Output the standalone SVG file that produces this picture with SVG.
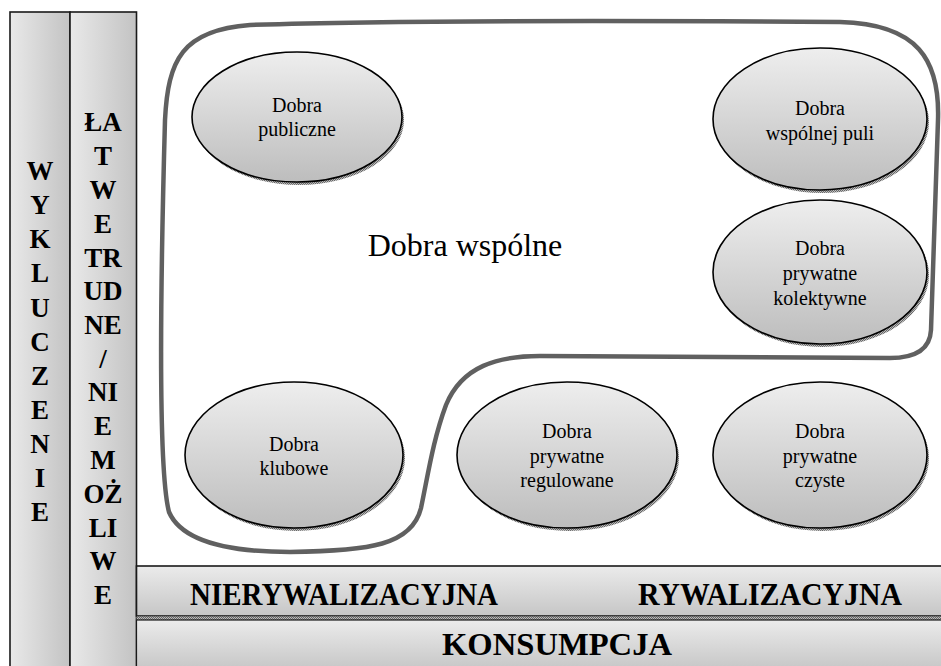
<svg xmlns="http://www.w3.org/2000/svg" width="941" height="666" viewBox="0 0 941 666">
<defs>
<linearGradient id="gH" x1="0" y1="0" x2="1" y2="0">
<stop offset="0" stop-color="#e9e9e9"/><stop offset="1" stop-color="#c3c3c3"/>
</linearGradient>
<linearGradient id="gV" x1="0" y1="0" x2="0" y2="1">
<stop offset="0" stop-color="#ebebeb"/><stop offset="1" stop-color="#c6c6c6"/>
</linearGradient>
<linearGradient id="gE" x1="0" y1="0" x2="0" y2="1">
<stop offset="0" stop-color="#eeeeee"/><stop offset="1" stop-color="#bdbdbd"/>
</linearGradient>
<pattern id="hatch" width="2" height="2" patternUnits="userSpaceOnUse">
<rect width="2" height="2" fill="#bbbbbb"/><rect width="1" height="1" fill="#666666"/><rect x="1" y="1" width="1" height="1" fill="#666666"/>
</pattern>
</defs>
<style>
.bar{stroke:#1a1a1a;stroke-width:1.6}
.vt{font-family:"Liberation Serif","Times New Roman",serif;font-weight:bold;font-size:27px;fill:#000;text-anchor:middle}
.bt{font-family:"Liberation Serif","Times New Roman",serif;font-weight:bold;font-size:31px;fill:#000;text-anchor:middle}
.et{font-family:"Liberation Serif","Times New Roman",serif;font-size:20px;fill:#000;text-anchor:middle}
.big{font-family:"Liberation Serif","Times New Roman",serif;font-size:32px;fill:#000;text-anchor:middle}
.el{fill:url(#gE);stroke:#000;stroke-width:1.6}
.sh{fill:url(#hatch)}
.outline{fill:none;stroke:#606060;stroke-width:4.5;stroke-linejoin:round}
</style>
<rect width="941" height="666" fill="#ffffff"/>

<g id="wykluczenie">
<rect class="bar" x="10" y="12" width="60" height="660" fill="url(#gH)"/>
<text class="vt">
<tspan x="40" y="180">W</tspan><tspan x="40" y="214">Y</tspan><tspan x="40" y="248">K</tspan><tspan x="40" y="282">L</tspan><tspan x="40" y="317">U</tspan><tspan x="40" y="351">C</tspan><tspan x="40" y="385">Z</tspan><tspan x="40" y="419">E</tspan><tspan x="40" y="453">N</tspan><tspan x="40" y="487">I</tspan><tspan x="40" y="521">E</tspan>
</text>
</g>

<g id="latwe">
<rect class="bar" x="70" y="12" width="66.5" height="660" fill="url(#gH)"/>
<text class="vt">
<tspan x="103" y="131">ŁA</tspan><tspan x="103" y="165">T</tspan><tspan x="103" y="199">W</tspan><tspan x="103" y="233">E</tspan><tspan x="103" y="267">TR</tspan><tspan x="103" y="300">UD</tspan><tspan x="103" y="334">NE</tspan><tspan x="103" y="368">/</tspan><tspan x="103" y="401">NI</tspan><tspan x="103" y="435">E</tspan><tspan x="103" y="469">M</tspan><tspan x="103" y="503">OŻ</tspan><tspan x="103" y="537">LI</tspan><tspan x="103" y="570">W</tspan><tspan x="103" y="604">E</tspan>
</text>
</g>

<g id="rywalizacja">
<rect class="bar" x="136.5" y="566" width="810" height="50" fill="url(#gV)"/>
<text class="bt" x="344" y="605" textLength="308" lengthAdjust="spacingAndGlyphs">NIERYWALIZACYJNA</text>
<text class="bt" x="770" y="605" textLength="264" lengthAdjust="spacingAndGlyphs">RYWALIZACYJNA</text>
</g>
<rect x="136.5" y="616.5" width="810" height="3.5" fill="url(#hatch)"/>
<g id="konsumpcja">
<rect x="136.5" y="620" width="810" height="50" fill="url(#gV)" stroke="#1a1a1a" stroke-width="1.2"/>
<text class="bt" x="557" y="655" textLength="230" lengthAdjust="spacingAndGlyphs">KONSUMPCJA</text>
</g>

<g id="dobra-wspolne">
<path class="outline" d="M 250 25 C 400 20, 700 21, 840 22 C 918 24, 940 60, 938 120 L 931 330 C 930 350, 915 358, 890 358 L 540 356 C 498 356, 462 366, 446 405 C 433 440, 428 475, 421 508 C 412 545, 370 551, 290 552 C 230 552, 182 542, 169 512 C 158 470, 160 300, 165 120 C 168 60, 182 30, 250 25 Z"/>
<text class="big" x="465" y="256">Dobra wspólne</text>
</g>

<g id="dobra-publiczne">
<ellipse class="sh" cx="299" cy="120" rx="105" ry="65"/>
<ellipse class="el" cx="297" cy="117" rx="105" ry="65"/>
<text class="et"><tspan x="297" y="112">Dobra</tspan><tspan x="297" y="136">publiczne</tspan></text>
</g>

<g id="dobra-wspolnej-puli">
<ellipse class="sh" cx="822" cy="122" rx="107" ry="71"/>
<ellipse class="el" cx="820" cy="119" rx="107" ry="71"/>
<text class="et"><tspan x="820" y="115">Dobra</tspan><tspan x="820" y="140">wspólnej puli</tspan></text>
</g>

<g id="dobra-prywatne-kolektywne">
<ellipse class="sh" cx="822" cy="275" rx="107" ry="72"/>
<ellipse class="el" cx="820" cy="272" rx="107" ry="72"/>
<text class="et"><tspan x="820" y="255">Dobra</tspan><tspan x="820" y="280">prywatne</tspan><tspan x="820" y="305">kolektywne</tspan></text>
</g>

<g id="dobra-klubowe">
<ellipse class="sh" cx="296" cy="458" rx="109" ry="73"/>
<ellipse class="el" cx="294" cy="455" rx="109" ry="73"/>
<text class="et"><tspan x="294" y="451">Dobra</tspan><tspan x="294" y="475">klubowe</tspan></text>
</g>

<g id="dobra-prywatne-regulowane">
<ellipse class="sh" cx="569" cy="458" rx="110" ry="73"/>
<ellipse class="el" cx="567" cy="455" rx="110" ry="73"/>
<text class="et"><tspan x="567" y="438">Dobra</tspan><tspan x="567" y="463">prywatne</tspan><tspan x="567" y="487">regulowane</tspan></text>
</g>

<g id="dobra-prywatne-czyste">
<ellipse class="sh" cx="822" cy="458" rx="107" ry="73"/>
<ellipse class="el" cx="820" cy="455" rx="107" ry="73"/>
<text class="et"><tspan x="820" y="438">Dobra</tspan><tspan x="820" y="463">prywatne</tspan><tspan x="820" y="487">czyste</tspan></text>
</g>

<g id="connectors"></g>
</svg>
